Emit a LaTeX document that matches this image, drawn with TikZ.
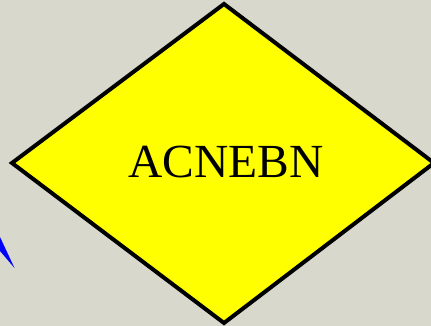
\documentclass[tikz,border=0pt]{standalone}
\usepackage{fontspec}
\setmainfont{Liberation Serif}
\definecolor{bgc}{RGB}{216,216,204}
\definecolor{ylw}{RGB}{255,255,0}
\tikzset{
  decision/.style={fill=ylw, draw=black, line width=4pt, line join=miter},
  label text/.style={font=\fontsize{47.5}{50}\selectfont, text=black, inner sep=0pt},
  tip/.style={fill=blue, draw=none}
}
\begin{document}
\begin{tikzpicture}[x=1pt,y=1pt]
\fill[bgc] (0,0) rectangle (431,326);
\useasboundingbox (0,0) rectangle (431,326);
\coordinate (T) at (224,322);
\coordinate (L) at (12,163);
\coordinate (B) at (224,3);
\coordinate (R) at (434,163);
\draw[decision] (T) -- (R) -- (B) -- (L) -- cycle;
\node[label text] (lbl) at (226,164) {ACNEBN};
\coordinate (a1) at (0,89);
\coordinate (a2) at (0,75);
\coordinate (a3) at (14.5,58);
\fill[tip] (a1) -- (a3) -- (a2) -- cycle;
\end{tikzpicture}
\end{document}
